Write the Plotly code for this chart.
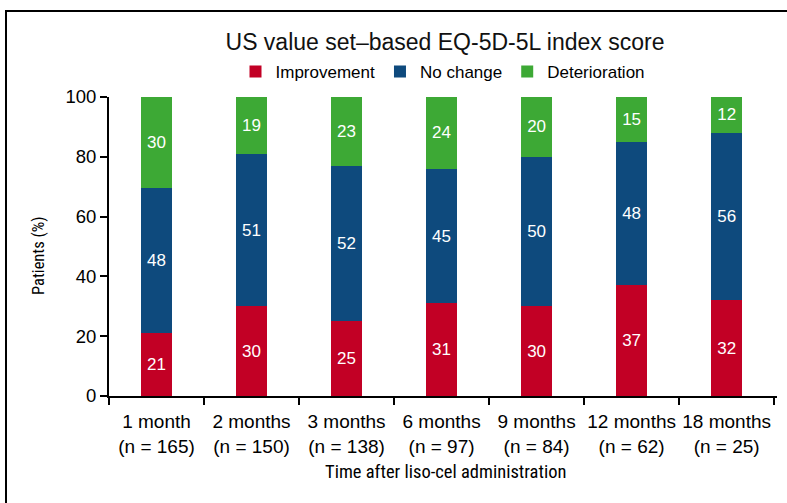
import plotly.graph_objects as go

categories = ["1 month<br>(n = 165)", "2 months<br>(n = 150)", "3 months<br>(n = 138)",
              "6 months<br>(n = 97)", "9 months<br>(n = 84)", "12 months<br>(n = 62)",
              "18 months<br>(n = 25)"]
improvement = [21.2, 30, 25, 31, 30, 37, 32]
no_change = [48.4, 51, 52, 45, 50, 48, 56]
deterioration = [30.4, 19, 23, 24, 20, 15, 12]
y_ticks = [0, 20, 40, 60, 80, 100]

series = [("Improvement", improvement, "#C20025"),
          ("No change", no_change, "#0E4A7D"),
          ("Deterioration", deterioration, "#3DA935")]

NARROW = "Liberation Sans Narrow, Arial Narrow, Roboto Condensed, DejaVu Sans Condensed, Liberation Sans, sans-serif"

fig = go.Figure()
for name, vals, col in series:
    fig.add_trace(go.Bar(
        x=categories, y=vals, name=name, marker=dict(color=col, line=dict(width=0)),
        width=0.32, texttemplate="%{y:.0f}", textposition="inside", insidetextanchor="middle",
        textfont=dict(color="white", size=17, family="Liberation Sans, Arial, sans-serif"),
        hoverinfo="skip"))

W, H = 787, 503
L, R, T, B = 109, 777, 97, 396
pw, ph = R - L, B - T

def px(xp):
    return (xp - L) / pw

def py(yp):
    return (B - yp) / ph

fig.update_layout(
    width=W, height=H, barmode="stack",
    margin=dict(l=L, r=W - R, t=T, b=H - B, pad=0),
    paper_bgcolor="white", plot_bgcolor="white",
    font=dict(family="Liberation Sans, Arial, sans-serif", color="black"),
    title=dict(text="US value set\u2013based EQ-5D-5L index score", x=445 / W, xanchor="center",
               y=1 - 42 / H, yanchor="middle", font=dict(size=23, color="#111")),
    legend=dict(orientation="h", x=px(443), xanchor="center", y=py(72), yanchor="middle",
                font=dict(size=17), traceorder="normal", itemclick=False, tracegroupgap=0),
    xaxis=dict(range=[-0.5, 6.53], showline=True, linecolor="black", linewidth=2,
               ticks="outside", tickson="boundaries", ticklen=7, tickwidth=2, tickcolor="black",
               tickangle=0, ticklabelstandoff=7, tickfont=dict(size=19), showgrid=False, fixedrange=True),
    yaxis=dict(range=[0, 100], tickvals=y_ticks, showline=True, linecolor="black", linewidth=2,
               ticks="outside", ticklen=7, tickwidth=2, tickcolor="black",
               tickfont=dict(size=18.5), showgrid=False, zeroline=False, fixedrange=True),
    shapes=[dict(type="rect", xref="paper", yref="paper", x0=px(6), y0=py(540), x1=px(820), y1=py(11),
                 line=dict(color="black", width=2), fillcolor="rgba(0,0,0,0)", layer="below")],
    annotations=[
        dict(text="Patients (%)", xref="paper", yref="paper", x=px(38), y=py(256), textangle=-90,
             showarrow=False, xanchor="center", yanchor="middle",
             font=dict(size=16.5, family=NARROW)),
        dict(text="Time after liso-cel administration", xref="paper", yref="paper", x=px(445), y=py(472),
             showarrow=False, xanchor="center", yanchor="middle",
             font=dict(size=18.5, family=NARROW)),
    ],
)

fig.write_html("out.html", config={"displayModeBar": False},
               post_script="document.body.style.margin='0';document.body.style.overflow='hidden';")
